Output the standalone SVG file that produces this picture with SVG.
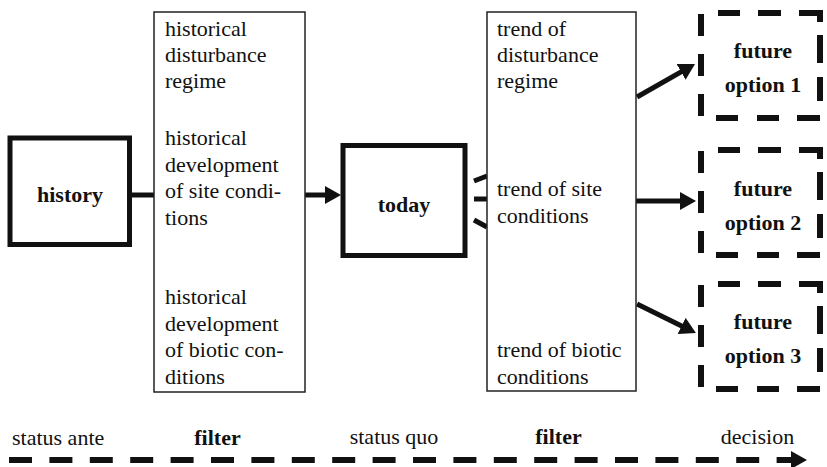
<svg xmlns="http://www.w3.org/2000/svg" xmlns:xlink="http://www.w3.org/1999/xlink" width="827" height="467" viewBox="0 0 827 467">
<style>
.t{font-family:"Liberation Serif","Times New Roman",serif;font-size:22px;fill:#111}
.b{font-family:"Liberation Serif","Times New Roman",serif;font-size:22px;font-weight:bold;fill:#111}
.m{text-anchor:middle}
.thick{fill:#fff;stroke:#111;stroke-width:5}
.thin{fill:#fff;stroke:#222;stroke-width:1.5}
.dash{fill:none;stroke:#111;stroke-width:6;stroke-linecap:butt;stroke-linejoin:miter}
.con{fill:none;stroke:#111;stroke-width:5}
</style>
<defs>
<marker id="ah" viewBox="0 0 16 18" markerWidth="16" markerHeight="18" markerUnits="userSpaceOnUse" refX="4" refY="9" orient="auto">
<path d="M0,0 L16,9 L0,18 z" fill="#111"/>
</marker>
<path id="fbox" class="dash" d="M17,0 H39 M57,0 H80 M98,0 H119 V9 M0,1 V23 M0,41 V63 M0,81 V103 M15,105 H37 M56,105 H78 M96,105 H119 M119,22 V50 M119,64 V88"/>
</defs>
<rect width="827" height="467" fill="#fff"/>

<g id="connectors">
<line class="con" x1="131" y1="195" x2="155" y2="195"/>
<line class="con" x1="305" y1="195" x2="329" y2="195" marker-end="url(#ah)"/>
<line class="con" stroke-width="4" x1="474" y1="181" x2="487" y2="176"/>
<line class="con" stroke-width="4" x1="474" y1="199" x2="487" y2="199"/>
<line class="con" stroke-width="4" x1="474" y1="220" x2="487" y2="227"/>
<line class="con" x1="637" y1="97" x2="684.6" y2="69.9" marker-end="url(#ah)"/>
<line class="con" x1="636" y1="201" x2="684" y2="201" marker-end="url(#ah)"/>
<line class="con" x1="637" y1="304" x2="685.2" y2="327.7" marker-end="url(#ah)"/>
<line x1="9" y1="460" x2="795" y2="460" stroke="#111" stroke-width="6" stroke-dasharray="23 17.4" marker-end="url(#ah)"/>
</g>

<g id="history">
<rect class="thick" x="10" y="138" width="119.5" height="106.5"/>
<text class="b m" x="70" y="202">history</text>
</g>

<g id="filter1">
<rect class="thin" x="154" y="12" width="151" height="380"/>
<text class="t" x="165"><tspan x="165" y="36">historical</tspan><tspan x="165" y="62">disturbance</tspan><tspan x="165" y="88">regime</tspan></text>
<text class="t"><tspan x="165" y="145">historical</tspan><tspan x="165" y="171.5">development</tspan><tspan x="165" y="198">of site condi-</tspan><tspan x="165" y="224.5">tions</tspan></text>
<text class="t"><tspan x="165" y="304">historical</tspan><tspan x="165" y="330.5">development</tspan><tspan x="165" y="357">of biotic con-</tspan><tspan x="165" y="383.5">ditions</tspan></text>
</g>

<g id="today">
<rect class="thick" x="343" y="145.5" width="122" height="110"/>
<text class="b m" x="404" y="212">today</text>
</g>

<g id="filter2">
<rect class="thin" x="487" y="12" width="149" height="379"/>
<text class="t"><tspan x="497" y="36">trend of</tspan><tspan x="497" y="62">disturbance</tspan><tspan x="497" y="88">regime</tspan></text>
<text class="t"><tspan x="497" y="196">trend of site</tspan><tspan x="497" y="222.5">conditions</tspan></text>
<text class="t"><tspan x="497" y="357">trend of biotic</tspan><tspan x="497" y="383.5">conditions</tspan></text>
</g>

<g id="future1">
<use xlink:href="#fbox" href="#fbox" x="701" y="13"/>
<text class="b m" x="763" y="57.5">future</text>
<text class="b m" x="763" y="91.5">option 1</text>
</g>

<g id="future2">
<use xlink:href="#fbox" href="#fbox" x="701" y="150"/>
<text class="b m" x="763" y="195.5">future</text>
<text class="b m" x="763" y="229.5">option 2</text>
</g>

<g id="future3">
<use xlink:href="#fbox" href="#fbox" x="701" y="284"/>
<text class="b m" x="763" y="329">future</text>
<text class="b m" x="763" y="363">option 3</text>
</g>

<g id="timeline-labels">
<text class="t" x="12" y="445">status ante</text>
<text class="b m" x="217.5" y="445">filter</text>
<text class="t m" x="394" y="444">status quo</text>
<text class="b m" x="558.5" y="444">filter</text>
<text class="t m" x="757.5" y="444">decision</text>
</g>
</svg>
